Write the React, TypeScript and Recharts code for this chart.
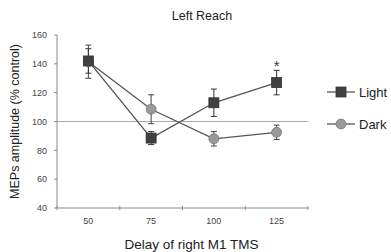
import React from 'react';
import {
  ComposedChart,
  Line,
  XAxis,
  YAxis,
  ErrorBar,
  ReferenceLine,
  LabelList,
} from 'recharts';

const delays = ['50', '75', '100', '125'];
const lightMean = [142, 88.5, 113, 127];
const lightErr = [8.5, 4.5, 9.5, 8.5];
const darkMean = [141.5, 108.5, 88, 92.5];
const darkErr = [11.5, 10, 5, 5];
const lightSig = ['', '', '', '*'];
const seriesNames = ['Light', 'Dark'];
const yTicks = [40, 60, 80, 100, 120, 140, 160];
const baseline = 100;

const data = delays.map((d, i) => ({
  x: i + 1,
  delay: d,
  light: lightMean[i],
  lightErr: lightErr[i],
  dark: darkMean[i],
  darkErr: darkErr[i],
  sig: lightSig[i],
}));

const xTicks: number[] = [0.5];
delays.forEach((_, i) => {
  xTicks.push(i + 1, i + 1.5);
});

const FONT = '"Liberation Sans", Arial, sans-serif';
const LINE = '#555555';
const LIGHT_FILL = '#404040';
const DARK_FILL = '#9a9a9a';
const AXIS = '#8a8a8a';

const SquareDot = (props: any) => {
  const { cx, cy } = props;
  if (cx == null || cy == null) return null;
  return <rect x={cx - 5} y={cy - 5} width={10} height={10} fill={LIGHT_FILL} stroke="#333" strokeWidth={0.8} />;
};

const CircleDot = (props: any) => {
  const { cx, cy } = props;
  if (cx == null || cy == null) return null;
  return <circle cx={cx} cy={cy} r={5} fill={DARK_FILL} stroke="#777" strokeWidth={0.8} />;
};

const XTick = (props: any) => {
  const { x, y, payload } = props;
  const v = payload.value as number;
  if (Number.isInteger(v)) {
    return (
      <text x={x} y={y + 16} textAnchor="middle" fontSize={9} fill="#444" fontFamily={FONT}>
        {delays[v - 1]}
      </text>
    );
  }
  return <line x1={x} x2={x} y1={y - 2} y2={y + 2} stroke={AXIS} strokeWidth={1} />;
};

const YLabel = (props: any) => {
  const vb = props.viewBox || {};
  const cx = 15;
  const cy = (vb.y ?? 35) + (vb.height ?? 173) / 2;
  return (
    <text
      x={cx}
      y={cy}
      transform={`rotate(-90 ${cx} ${cy})`}
      textAnchor="middle"
      dominantBaseline="central"
      fontSize={12.5}
      fill="#222"
      fontFamily={FONT}
    >
      MEPs amplitude (% control)
    </text>
  );
};

const XLabel = (props: any) => {
  const vb = props.viewBox || {};
  const cx = (vb.x ?? 57) + (vb.width ?? 251) / 2 + 9;
  const cy = (vb.y ?? 208) + (vb.height ?? 44) - 8;
  return (
    <text x={cx} y={cy} textAnchor="middle" dominantBaseline="central" fontSize={13.5} fill="#222" fontFamily={FONT}>
      Delay of right M1 TMS
    </text>
  );
};

const SigLabel = (props: any) => {
  const { x, y, value } = props;
  if (!value) return null;
  return (
    <text x={x} y={y - 12} textAnchor="middle" fontSize={15} fill="#333" fontFamily={FONT}>
      {value}
    </text>
  );
};

export default function App() {
  return (
    <div style={{ position: 'absolute', left: 0, top: 0, width: 391, height: 252, background: '#fff', fontFamily: FONT }}>
      <div
        style={{
          position: 'absolute',
          left: 142,
          top: 8,
          width: 120,
          lineHeight: '16px',
          textAlign: 'center',
          fontSize: 12.5,
          color: '#222',
        }}
      >
        Left Reach
      </div>
      <ComposedChart width={391} height={252} data={data} margin={{ top: 35, right: 83, left: 0, bottom: 0 }}>
        <XAxis
          dataKey="x"
          type="number"
          domain={[0.5, 4.5]}
          ticks={xTicks}
          interval={0}
          tickLine={false}
          tickSize={0}
          tickMargin={0}
          tick={<XTick />}
          height={44}
          stroke={AXIS}
          label={<XLabel />}
        />
        <YAxis
          type="number"
          domain={[40, 160]}
          ticks={yTicks}
          interval={0}
          width={57}
          tickSize={3}
          tickMargin={7}
          stroke={AXIS}
          tick={{ fontSize: 9, fill: '#444', fontFamily: FONT }}
          label={<YLabel />}
        />
        <ReferenceLine y={baseline} stroke="#a8a8a8" strokeWidth={1} />
        <Line
          dataKey="dark"
          name={seriesNames[1]}
          stroke={LINE}
          strokeWidth={1.3}
          dot={<CircleDot />}
          isAnimationActive={false}
        >
          <ErrorBar dataKey="darkErr" direction="y" width={3} stroke="#444" strokeWidth={1} />
        </Line>
        <Line
          dataKey="light"
          name={seriesNames[0]}
          stroke={LINE}
          strokeWidth={1.3}
          dot={<SquareDot />}
          isAnimationActive={false}
        >
          <ErrorBar dataKey="lightErr" direction="y" width={3} stroke="#333" strokeWidth={1} />
          <LabelList dataKey="sig" content={<SigLabel />} />
        </Line>
      </ComposedChart>
      <div style={{ position: 'absolute', left: 326, top: 83, width: 65 }}>
        {seriesNames.map((name, i) => (
          <div key={name} style={{ display: 'flex', alignItems: 'center', height: 18, marginBottom: i === 0 ? 14 : 0 }}>
            <svg width={30} height={18} style={{ flex: 'none' }}>
              <line x1={1} x2={29} y1={9} y2={9} stroke={LINE} strokeWidth={1.3} />
              {i === 0 ? (
                <rect x={10} y={4} width={10} height={10} fill={LIGHT_FILL} stroke="#333" strokeWidth={0.8} />
              ) : (
                <circle cx={15} cy={9} r={5} fill={DARK_FILL} stroke="#777" strokeWidth={0.8} />
              )}
            </svg>
            <span style={{ fontSize: 13, color: '#222', marginLeft: 3, whiteSpace: 'nowrap' }}>{name}</span>
          </div>
        ))}
      </div>
    </div>
  );
}
